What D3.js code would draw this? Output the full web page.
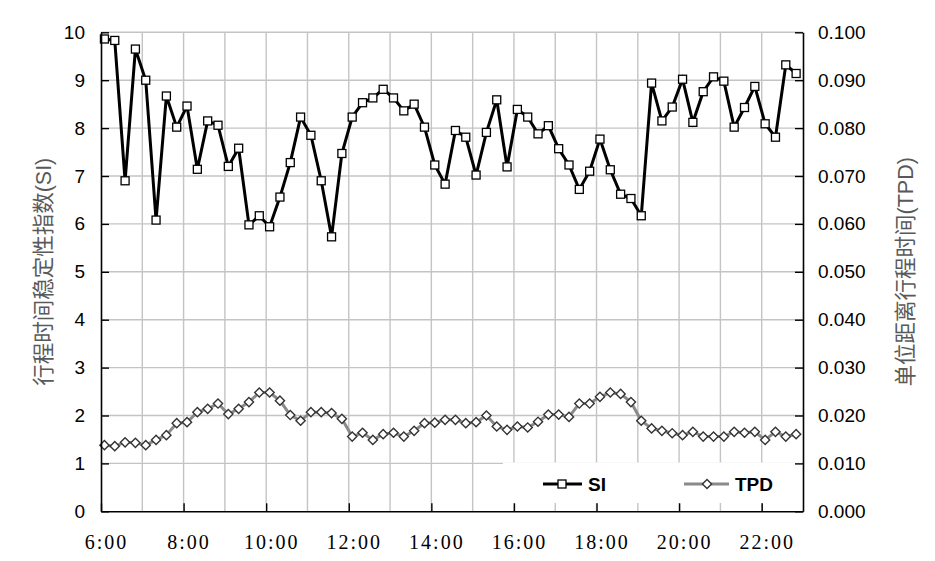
<!DOCTYPE html>
<html><head><meta charset="utf-8">
<script src="https://cdn.jsdelivr.net/npm/d3@7"></script>
<style>
html,body{margin:0;padding:0;background:#fff;}
svg{display:block;}
</style></head>
<body>
<svg id="chart" width="935" height="561"></svg>
<script>
// ---- data ----
const startMinute = 365;          // first sample 6:05, every 15 minutes
const stepMinutes = 15;
const siValues = [9.86, 9.83, 6.90, 9.65, 9.00, 6.08, 8.67, 8.02, 8.46, 7.14,
  8.15, 8.06, 7.20, 7.58, 5.98, 6.17, 5.94, 6.56, 7.28, 8.23,
  7.85, 6.90, 5.73, 7.47, 8.23, 8.53, 8.63, 8.81, 8.63, 8.36,
  8.50, 8.02, 7.23, 6.83, 7.95, 7.81, 7.02, 7.91, 8.59, 7.19,
  8.39, 8.23, 7.88, 8.05, 7.57, 7.23, 6.72, 7.10, 7.77, 7.13,
  6.62, 6.53, 6.17, 8.94, 8.15, 8.44, 9.02, 8.12, 8.76, 9.07,
  8.98, 8.02, 8.43, 8.87, 8.09, 7.81, 9.32, 9.14];
const tpdValues = [0.0138, 0.0136, 0.0144, 0.0143, 0.0138, 0.0149, 0.0159, 0.0184, 0.0186, 0.0207,
  0.0214, 0.0225, 0.0203, 0.0214, 0.0228, 0.0248, 0.0248, 0.0231, 0.0201, 0.0189,
  0.0207, 0.0207, 0.0205, 0.0193, 0.0156, 0.0164, 0.0149, 0.0161, 0.0164, 0.0156,
  0.0168, 0.0184, 0.0185, 0.0191, 0.0191, 0.0184, 0.0186, 0.0200, 0.0177, 0.0170,
  0.0177, 0.0175, 0.0187, 0.0202, 0.0202, 0.0197, 0.0225, 0.0225, 0.0239, 0.0248,
  0.0245, 0.0228, 0.0189, 0.0173, 0.0168, 0.0163, 0.0159, 0.0166, 0.0156, 0.0156,
  0.0156, 0.0166, 0.0164, 0.0166, 0.0149, 0.0166, 0.0156, 0.0161];
const xTickLabels = ["6:00","8:00","10:00","12:00","14:00","16:00","18:00","20:00","22:00"];
const siTicks = [0,1,2,3,4,5,6,7,8,9,10];
const tpdTicks = [0,0.01,0.02,0.03,0.04,0.05,0.06,0.07,0.08,0.09,0.10];
const leftTitle = "行程时间稳定性指数(SI)";
const rightTitle = "单位距离行程时间(TPD)";
const seriesNames = ["SI","TPD"];

// ---- layout ----
const L = 101, R = 803, T = 32.3, B = 511.3;
const svg = d3.select("#chart");
const parseMin = s => { const [h,m] = s.split(":").map(Number); return h*60+m; };

const x = d3.scaleLinear().domain([360, 1380]).range([L, R]);
const yL = d3.scaleLinear().domain([0, 10]).range([B, T]);
const yR = d3.scaleLinear().domain([0, 0.1]).range([B, T]);
const times = siValues.map((d,i) => startMinute + i*stepMinutes);

// gridlines
const grid = svg.append("g").attr("stroke", "#c4c4c4").attr("stroke-width", 1.4);
siTicks.filter(d => d > 0).forEach(v => {
  grid.append("line").attr("x1", L).attr("x2", R).attr("y1", yL(v)).attr("y2", yL(v));
});
d3.range(420, 1380, 60).forEach(m => {
  grid.append("line").attr("x1", x(m)).attr("x2", x(m)).attr("y1", T).attr("y2", B);
});

// legend background (covers gridlines)
svg.append("rect").attr("x", 503).attr("y", 462.5).attr("width", R - 503 - 1).attr("height", 40.5)
  .attr("fill", "#fff");

// TPD series
const tpdLine = d3.line().x((d,i) => x(times[i])).y(d => yR(d));
svg.append("path").datum(tpdValues).attr("d", tpdLine)
  .attr("fill", "none").attr("stroke", "#8a8a8a").attr("stroke-width", 3);
const diamond = r => `M0,${-r}L${r},0L0,${r}L${-r},0Z`;
svg.append("g").selectAll("path").data(tpdValues).join("path")
  .attr("transform", (d,i) => `translate(${x(times[i])},${yR(d)})`)
  .attr("d", diamond(4.6))
  .attr("fill", "#fff").attr("stroke", "#333").attr("stroke-width", 1.4);

// SI series
const siLine = d3.line().x((d,i) => x(times[i])).y(d => yL(d));
svg.append("path").datum(siValues).attr("d", siLine)
  .attr("fill", "none").attr("stroke", "#000").attr("stroke-width", 3);
svg.append("g").selectAll("rect").data(siValues).join("rect")
  .attr("x", (d,i) => x(times[i]) - 4).attr("y", d => yL(d) - 4)
  .attr("width", 8).attr("height", 8)
  .attr("fill", "#fff").attr("stroke", "#000").attr("stroke-width", 1.3);

// axes
const tickFont = "'Liberation Sans', Arial, sans-serif";
const axL = svg.append("g").attr("transform", `translate(${L},0)`)
  .call(d3.axisLeft(yL).tickValues(siTicks).tickFormat(d3.format("d")).tickSizeInner(-8).tickSizeOuter(0).tickPadding(16));
const axR = svg.append("g").attr("transform", `translate(${R},0)`)
  .call(d3.axisRight(yR).tickValues(tpdTicks).tickFormat(d3.format(".3f")).tickSizeInner(-8).tickSizeOuter(0).tickPadding(15));
const axB = svg.append("g").attr("transform", `translate(0,${B})`)
  .call(d3.axisBottom(x).tickValues(xTickLabels.map(parseMin))
    .tickFormat((d,i) => xTickLabels[i]).tickSizeInner(-8).tickSizeOuter(0).tickPadding(24));
[axL, axR, axB].forEach(a => {
  a.selectAll("path.domain").attr("stroke", "#000").attr("stroke-width", 1.6);
  a.selectAll(".tick line").attr("stroke", "#000").attr("stroke-width", 1.4);
});
[axL, axR].forEach(a => a.selectAll("text").attr("font-family", tickFont).attr("font-size", 19).attr("fill", "#000"));
axB.selectAll("text").attr("font-family", "'Liberation Serif', 'Times New Roman', serif")
  .attr("font-size", 20).attr("letter-spacing", "2px").attr("fill", "#000").attr("dx", 5);

// axis titles
const titleFont = "'Liberation Sans', 'Noto Sans CJK SC', sans-serif";
svg.append("text").attr("transform", `translate(43,${(T+B)/2}) rotate(-90)`)
  .attr("text-anchor", "middle").attr("dy", "0.35em")
  .attr("font-family", titleFont).attr("font-size", 21.5).attr("fill", "#595959")
  .text(leftTitle);
svg.append("text").attr("transform", `translate(905,${(T+B)/2}) rotate(-90)`)
  .attr("text-anchor", "middle").attr("dy", "0.35em")
  .attr("font-family", titleFont).attr("font-size", 21.5).attr("fill", "#595959")
  .text(rightTitle);

// legend
const lg = svg.append("g");
const ly = 484;
lg.append("line").attr("x1", 543).attr("x2", 582).attr("y1", ly).attr("y2", ly)
  .attr("stroke", "#000").attr("stroke-width", 3);
lg.append("rect").attr("x", 558).attr("y", ly - 4).attr("width", 8).attr("height", 8)
  .attr("fill", "#fff").attr("stroke", "#000").attr("stroke-width", 1.3);
lg.append("text").attr("x", 588).attr("y", ly).attr("dy", "0.36em")
  .attr("font-family", tickFont).attr("font-weight", "bold").attr("font-size", 19).text(seriesNames[0]);
lg.append("line").attr("x1", 684).attr("x2", 729).attr("y1", ly).attr("y2", ly)
  .attr("stroke", "#8a8a8a").attr("stroke-width", 3);
lg.append("path").attr("transform", `translate(707,${ly})`).attr("d", diamond(4.6))
  .attr("fill", "#fff").attr("stroke", "#333").attr("stroke-width", 1.4);
lg.append("text").attr("x", 735).attr("y", ly).attr("dy", "0.36em")
  .attr("font-family", tickFont).attr("font-weight", "bold").attr("font-size", 19).text(seriesNames[1]);
</script>
</body></html>
